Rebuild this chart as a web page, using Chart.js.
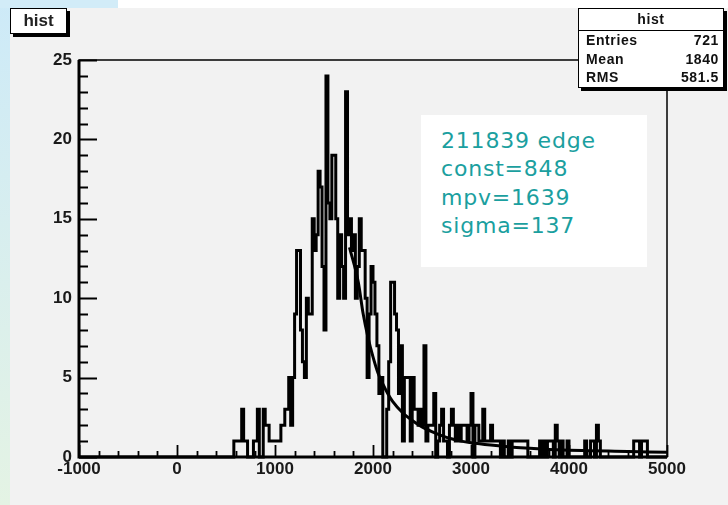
<!DOCTYPE html>
<html>
<head>
<meta charset="utf-8">
<script src="https://cdn.jsdelivr.net/npm/chart.js@4/dist/chart.umd.min.js"></script>
<style>
    html, body { margin: 0; padding: 0; background: #fff; }
    #page { position: relative; width: 728px; height: 505px; overflow: hidden; background: #fff; }
    #edge { position: absolute; left: 0; top: 0; width: 10px; height: 505px; background: linear-gradient(#cdeaf8, #e4f3e4); }
    #topband { position: absolute; left: 0; top: 0; width: 118px; height: 8px; background: #d2ecf8; }
    #pad { position: absolute; left: 10px; top: 8px; width: 718px; height: 497px; background: #f2f2f2; }
    #chart { position: absolute; left: 0; top: 0; }
    .title {
        position: absolute; left: 10px; top: 8px; width: 55px; height: 24px;
        background: #fff; border: 1.5px solid #000; box-shadow: 3px 3px 0 #000;
        font: bold 17px "Liberation Sans", Arial, sans-serif; color: #222;
        text-align: center; line-height: 24px;
    }
    .stats {
        position: absolute; left: 578px; top: 8px; width: 144px; height: 78px;
        background: #fff; border: 1.5px solid #000; box-shadow: 3px 3px 0 #000;
        font: bold 14px "Liberation Sans", Arial, sans-serif; color: #111; letter-spacing: 0.6px;
    }
    .stats .head { height: 21px; line-height: 21px; text-align: center; border-bottom: 1.5px solid #000; }
    .stats .row { display: flex; justify-content: space-between; padding: 0 4px 0 7px; height: 18.5px; line-height: 18.5px; }
    .note {
        position: absolute; left: 421px; top: 115px; width: 226px; height: 152px; background: #fff;
        font: 22px "DejaVu Sans", sans-serif; color: #1b9f9f; letter-spacing: 0.8px;
        box-sizing: border-box; padding: 12px 0 0 20px; line-height: 28.4px;
    }
</style>
</head>
<body>
<div id="page">
    <div id="pad"></div>
    <div id="edge"></div>
    <div id="topband"></div>
    <canvas id="chart" width="728" height="505"></canvas>
    <div class="title">hist</div>
    <div class="stats">
        <div class="head">hist</div>
        <div class="row"><span>Entries</span><span>721</span></div>
        <div class="row"><span>Mean</span><span>1840</span></div>
        <div class="row"><span>RMS</span><span>581.5</span></div>
    </div>
    <div class="note">211839 edge<br>const=848<br>mpv=1639<br>sigma=137</div>
</div>
<script>
// histogram axis range and binning
const xMin = -1000;
const xMax = 5000;
const binWidth = 20;
const yMax = 25;

// bin contents, starting with the bin whose low edge is countsStart
const countsStart = 560;
const counts = [
    0, 1, 1, 1, 1, 3, 1, 1, 0, 0,
    0, 1, 1, 3, 0, 0, 3, 2, 2, 1,
    1, 1, 1, 1, 1, 2, 2, 3, 3, 5,
    2, 5, 9, 13, 13, 8, 6, 5, 10, 9,
    9, 15, 13, 14, 18, 17, 12, 8, 24, 16,
    15, 19, 19, 15, 10, 14, 12, 10, 23, 14,
    15, 13, 14, 10, 12, 15, 13, 13, 10, 5,
    9, 12, 11, 9, 7, 4, 5, 0, 0, 3,
    6, 11, 11, 9, 8, 4, 7, 1, 5, 5,
    5, 1, 5, 3, 3, 2, 3, 2, 7, 1,
    2, 2, 2, 4, 0, 1, 2, 3, 1, 1,
    0, 2, 3, 2, 1, 2, 1, 2, 2, 2,
    1, 2, 4, 0, 2, 2, 1, 1, 3, 1,
    1, 1, 2, 1, 1, 1, 1, 0, 1, 0,
    0, 1, 0, 1, 1, 1, 1, 1, 1, 1,
    1, 0, 0, 0, 0, 0, 0, 1, 0, 1,
    0, 1, 1, 1, 0, 2, 1, 0, 1, 0,
    0, 1, 0, 0, 0, 0, 0, 0, 0, 0,
    1, 0, 0, 1, 1, 0, 2, 1, 0, 0,
    0, 0, 0, 0, 0, 0, 0, 0, 0, 0,
    0, 0, 0, 0, 0, 1, 1, 1, 0, 1,
    1, 1, 0
];

// landau fit curve, sampled
const fitX = [1760, 1850, 1900, 1950, 2000, 2050, 2100, 2150, 2200, 2300, 2400, 2500, 2600, 2700,
              2800, 2900, 3000, 3200, 3400, 3600, 3800, 4000, 4200, 4400, 4600, 4800, 5000];
const fitY = [13.2, 11, 9, 7.5, 6.3, 5.3, 4.6, 4.0, 3.5, 2.8, 2.3, 1.9, 1.6, 1.35,
              1.15, 1.0, 0.9, 0.75, 0.63, 0.55, 0.48, 0.43, 0.4, 0.37, 0.34, 0.32, 0.3];

// step outline points: one per bin low edge, plus the upper edge
function histPoints() {
    const n = Math.round((xMax - xMin) / binWidth);
    const first = Math.round((countsStart - xMin) / binWidth);
    const pts = [];
    for (let i = 0; i < n; i++) {
        const k = i - first;
        const v = (k >= 0 && k < counts.length) ? counts[k] : 0;
        pts.push({ x: xMin + i * binWidth, y: v });
    }
    pts.push({ x: xMax, y: 0 });
    return pts;
}

// frame and inward ticks, ROOT style
const rootFrame = {
    id: 'rootFrame',
    afterDatasetsDraw(chart) {
        const { ctx, chartArea: a, scales: { x, y } } = chart;
        ctx.save();
        ctx.strokeStyle = '#000';
        ctx.lineWidth = 1.5;
        ctx.strokeRect(a.left, a.top, a.right - a.left, a.bottom - a.top);
        ctx.lineWidth = 3;
        ctx.beginPath();
        ctx.moveTo(a.left, a.top);
        ctx.lineTo(a.left, a.bottom);
        ctx.lineTo(a.right, a.bottom);
        ctx.stroke();

        ctx.lineWidth = 1.8;
        ctx.beginPath();
        for (let v = 0; v <= yMax; v++) {
            const py = Math.round(y.getPixelForValue(v)) + 0.5;
            const len = v % 5 === 0 ? 18 : 9;
            ctx.moveTo(a.left, py);
            ctx.lineTo(a.left + len, py);
        }
        for (let v = xMin; v <= xMax; v += 200) {
            const px = Math.round(x.getPixelForValue(v)) + 0.5;
            const len = v % 1000 === 0 ? 12 : 6;
            ctx.moveTo(px, a.bottom);
            ctx.lineTo(px, a.bottom - len);
        }
        ctx.stroke();
        ctx.restore();
    }
};

const tickFont = { family: '"Liberation Sans", Arial, sans-serif', size: 17, weight: 'bold' };

new Chart(document.getElementById('chart'), {
    type: 'line',
    data: {
        datasets: [
            {
                data: histPoints(),
                stepped: true,
                borderColor: '#000',
                borderWidth: 3,
                pointRadius: 0,
                fill: false,
                clip: 4
            },
            {
                data: fitX.map((v, i) => ({ x: v, y: fitY[i] })),
                borderColor: '#000',
                borderWidth: 3,
                pointRadius: 0,
                cubicInterpolationMode: 'monotone',
                fill: false,
                clip: 4
            }
        ]
    },
    options: {
        responsive: false,
        animation: false,
        devicePixelRatio: 1,
        layout: { padding: { top: 60, right: 61, left: 0, bottom: 0 } },
        plugins: { legend: { display: false }, tooltip: { enabled: false } },
        scales: {
            x: {
                type: 'linear',
                min: xMin,
                max: xMax,
                grid: { display: false, drawTicks: false },
                border: { display: false },
                ticks: {
                    stepSize: 1000, autoSkip: false, maxRotation: 0, padding: 2,
                    color: '#1a1a1a', font: tickFont,
                    callback: v => String(v)
                },
                afterFit: s => { s.height = 48; }
            },
            y: {
                min: 0,
                max: yMax,
                grid: { display: false, drawTicks: false },
                border: { display: false },
                ticks: { stepSize: 5, padding: 7, color: '#1a1a1a', font: tickFont, callback: v => String(v) },
                afterFit: s => { s.width = 79; }
            }
        }
    },
    plugins: [rootFrame]
});
</script>
</body>
</html>
